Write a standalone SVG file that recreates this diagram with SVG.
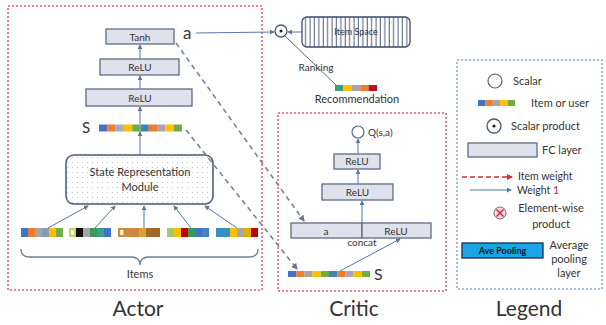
<svg xmlns="http://www.w3.org/2000/svg" width="606" height="325" viewBox="0 0 606 325">
<defs>
<style>
.t{font-family:Lato,"Open Sans","DejaVu Sans",sans-serif;fill:#333}
.fc{fill:#dfe1ec;stroke:#5d6c86;stroke-width:1.3}
.red{fill:none;stroke:#e05a6a;stroke-width:1.5;stroke-dasharray:2 2}
.blue{fill:none;stroke:#86a8d4;stroke-width:1.5;stroke-dasharray:2 2}
.ln{stroke:#5577a0;stroke-width:1;fill:none}
.dl{stroke:#7a8494;stroke-width:1.6;stroke-dasharray:5 4;fill:none}
</style>
<marker id="arr" viewBox="0 0 6 6" refX="5" refY="3" markerWidth="5" markerHeight="5" orient="auto"><path d="M0,0 L6,3 L0,6 z" fill="#5577a0"/></marker>
<marker id="darr" viewBox="0 0 6 6" refX="5" refY="3" markerWidth="4" markerHeight="4" orient="auto"><path d="M0,0 L6,3 L0,6 z" fill="#6a7484"/></marker>
<marker id="rarr" viewBox="0 0 6 6" refX="5" refY="3" markerWidth="4" markerHeight="4" orient="auto"><path d="M0,0 L6,3 L0,6 z" fill="#d03040"/></marker>
<pattern id="dots" width="5" height="5" patternUnits="userSpaceOnUse"><circle cx="2.5" cy="2.5" r="0.6" fill="#b4bccb"/></pattern>
<pattern id="stripes" width="4.4" height="10" patternUnits="userSpaceOnUse"><rect width="4.4" height="10" fill="#fff"/><line x1="2" y1="0" x2="2" y2="10" stroke="#3a4a6a" stroke-width="0.9"/></pattern>
</defs>
<rect width="606" height="325" fill="#fff"/>

<!-- panels -->
<g id="actor-panel">
<rect class="red" x="8" y="6" width="254" height="284"/>
<text class="t" x="138" y="316" font-size="21" text-anchor="middle">Actor</text>
</g>
<g id="critic-panel">
<rect class="red" x="278" y="113" width="168" height="178"/>
<text class="t" x="354" y="316" font-size="21" text-anchor="middle">Critic</text>
</g>
<g id="legend-panel">
<rect class="blue" x="457" y="60" width="145" height="229"/>
<text class="t" x="529" y="316" font-size="21" text-anchor="middle">Legend</text>
</g>

<!-- actor nodes -->
<g id="tanh"><rect class="fc" x="106" y="29" width="68" height="15"/><text class="t" x="140" y="40.5" font-size="10" text-anchor="middle">Tanh</text></g>
<g id="a-label"><text class="t" x="183" y="39" font-size="17">a</text></g>
<g id="relu-a1"><rect class="fc" x="100" y="59" width="79" height="16"/><text class="t" x="140" y="71" font-size="10" text-anchor="middle">ReLU</text></g>
<g id="relu-a2"><rect class="fc" x="86" y="89" width="106" height="17"/><text class="t" x="140" y="101.5" font-size="10" text-anchor="middle">ReLU</text></g>
<g id="state-s">
<text class="t" x="82" y="133" font-size="15">S</text>
<rect x="99" y="124.5" width="8.3" height="7" fill="#4472c4"/><rect x="107.3" y="124.5" width="8.3" height="7" fill="#ed7d31"/><rect x="115.6" y="124.5" width="8.3" height="7" fill="#9fb0c4"/><rect x="123.9" y="124.5" width="8.3" height="7" fill="#ffc000"/><rect x="132.2" y="124.5" width="8.3" height="7" fill="#70ad47"/><rect x="140.5" y="124.5" width="8.3" height="7" fill="#3f86a8"/><rect x="148.8" y="124.5" width="8.3" height="7" fill="#ed7d31"/><rect x="157.1" y="124.5" width="8.3" height="7" fill="#b0a0b8"/><rect x="165.4" y="124.5" width="8.3" height="7" fill="#ffc000"/><rect x="173.7" y="124.5" width="8.3" height="7" fill="#70ad47"/>
</g>
<g id="srm">
<rect x="66" y="155" width="147" height="49" rx="8" fill="url(#dots)" stroke="#4a5a70" stroke-width="1.5"/>
<text class="t" x="140" y="176" font-size="11" text-anchor="middle">State Representation</text>
<text class="t" x="140" y="191" font-size="11" text-anchor="middle">Module</text>
</g>
<g id="items">
<g>
<rect x="21" y="228" width="7" height="9" fill="#4472c4"/><rect x="28" y="228" width="7" height="9" fill="#ed7d31"/><rect x="35" y="228" width="7" height="9" fill="#a5a5a5"/><rect x="42" y="228" width="7" height="9" fill="#8d9aae"/><rect x="49" y="228" width="7" height="9" fill="#ffc000"/><rect x="56" y="228" width="7" height="9" fill="#70ad47"/>
</g>
<g>
<rect x="69" y="228" width="7" height="9" fill="#c8d46a"/><rect x="71" y="230.5" width="3" height="4" fill="#fff"/><rect x="76" y="228" width="7" height="9" fill="#111"/><rect x="83" y="228" width="7" height="9" fill="#a5a5a5"/><rect x="90" y="228" width="7" height="9" fill="#3a9a5a"/><rect x="97" y="228" width="7" height="9" fill="#3aa08a"/><rect x="104" y="228" width="7" height="9" fill="#4472c4"/>
</g>
<g>
<rect x="118" y="228" width="7" height="9" fill="#d08a3a"/><rect x="120" y="230" width="3.5" height="5" fill="#f6eedc"/><rect x="125" y="228" width="7" height="9" fill="#d08a3a"/><rect x="132" y="228" width="7" height="9" fill="#c98a40"/><rect x="139" y="228" width="7" height="9" fill="#e0a030"/><rect x="146" y="228" width="7" height="9" fill="#a06c2c"/><rect x="153" y="228" width="7" height="9" fill="#9c6a2a"/>
</g>
<g>
<rect x="167" y="228" width="7" height="9" fill="#a0c880"/><rect x="174" y="228" width="7" height="9" fill="#ffc000"/><rect x="181" y="228" width="7" height="9" fill="#c00000"/><rect x="188" y="228" width="7" height="9" fill="#3a9a5a"/><rect x="195" y="228" width="7" height="9" fill="#4472c4"/><rect x="202" y="228" width="7" height="9" fill="#4f7ec8"/>
</g>
<g>
<rect x="216" y="228" width="7" height="9" fill="#3a8fc0"/><rect x="223" y="228" width="7" height="9" fill="#3a8fc0"/><rect x="230" y="228" width="7" height="9" fill="#ffc000"/><rect x="237" y="228" width="7" height="9" fill="#a5a5a5"/><rect x="244" y="228" width="7" height="9" fill="#e0b000"/><rect x="251" y="228" width="7" height="9" fill="#c00000"/>
</g>
<path d="M21,249 Q21,257 30,257 L131,257 Q140,257 140,265 Q140,257 149,257 L249,257 Q258,257 258,249" fill="none" stroke="#6a7f9a" stroke-width="1.3"/>
<text class="t" x="140" y="278" font-size="11" text-anchor="middle">Items</text>
</g>

<!-- top ranking -->
<g id="scalar-product"><circle cx="281" cy="31" r="6" fill="#fff" stroke="#4a5a70" stroke-width="1.3"/><circle cx="281" cy="31" r="1.5" fill="#222"/></g>
<g id="item-space"><rect x="302" y="17" width="108" height="30" rx="5" fill="url(#stripes)" stroke="#3a4a6a" stroke-width="1.3"/><text class="t" x="356" y="35" font-size="9" text-anchor="middle" fill="#222">Item Space</text></g>
<g id="recommendation">
<rect x="335" y="85" width="8.4" height="6" fill="#3aa080"/><rect x="343.4" y="85" width="8.4" height="6" fill="#ffc000"/><rect x="351.8" y="85" width="8.4" height="6" fill="#a5a5a5"/><rect x="360.2" y="85" width="8.4" height="6" fill="#ed7d31"/><rect x="368.6" y="85" width="8.4" height="6" fill="#b01828"/>
<text class="t" x="357" y="103" font-size="11" text-anchor="middle">Recommendation</text>
</g>
<g id="ranking-label"><text class="t" x="316" y="71" font-size="10" text-anchor="middle">Ranking</text></g>

<!-- critic nodes -->
<g id="q"><circle cx="358" cy="132" r="6" fill="#fff" stroke="#5d6c86" stroke-width="1.2"/><text class="t" x="368" y="136" font-size="10">Q(s,a)</text></g>
<g id="relu-c1"><rect class="fc" x="334" y="154" width="46" height="15"/><text class="t" x="357" y="165" font-size="10" text-anchor="middle">ReLU</text></g>
<g id="relu-c2"><rect class="fc" x="322" y="184" width="71" height="16"/><text class="t" x="357.5" y="196" font-size="10" text-anchor="middle">ReLU</text></g>
<g id="concat"><rect class="fc" x="291" y="223" width="71" height="15"/><rect class="fc" x="362" y="223" width="69" height="15"/><text class="t" x="326" y="234.5" font-size="10" text-anchor="middle">a</text><text class="t" x="396" y="234.5" font-size="10" text-anchor="middle">ReLU</text><text class="t" x="362" y="246" font-size="10" text-anchor="middle">concat</text></g>
<g id="critic-s">
<rect x="288" y="271" width="8.2" height="6" fill="#4472c4"/><rect x="296.2" y="271" width="8.2" height="6" fill="#ed7d31"/><rect x="304.4" y="271" width="8.2" height="6" fill="#a5a5a5"/><rect x="312.6" y="271" width="8.2" height="6" fill="#ffc000"/><rect x="320.8" y="271" width="8.2" height="6" fill="#70ad47"/><rect x="329" y="271" width="8.2" height="6" fill="#3f86a8"/><rect x="337.2" y="271" width="8.2" height="6" fill="#ed7d31"/><rect x="345.4" y="271" width="8.2" height="6" fill="#b0a0b8"/><rect x="353.6" y="271" width="8.2" height="6" fill="#ffc000"/><rect x="361.8" y="271" width="8.2" height="6" fill="#70ad47"/>
<text class="t" x="374" y="280" font-size="16">S</text>
</g>

<!-- legend -->
<g id="legend-items">
<circle cx="495" cy="81" r="7" fill="#fff" stroke="#4a6690" stroke-width="1.2"/>
<text class="t" x="513" y="85" font-size="11">Scalar</text>
<rect x="478" y="100" width="7.4" height="6" fill="#4472c4"/><rect x="485.4" y="100" width="7.4" height="6" fill="#ed7d31"/><rect x="492.8" y="100" width="7.4" height="6" fill="#a5a5a5"/><rect x="500.2" y="100" width="7.4" height="6" fill="#ffc000"/><rect x="507.6" y="100" width="7.4" height="6" fill="#70ad47"/>
<text class="t" x="531" y="107" font-size="11">Item or user</text>
<circle cx="494" cy="126" r="7" fill="#fff" stroke="#4a5a70" stroke-width="1.3"/><circle cx="494" cy="126" r="1.6" fill="#222"/>
<text class="t" x="511" y="130" font-size="11">Scalar product</text>
<rect class="fc" x="468" y="143" width="69" height="14"/>
<text class="t" x="542" y="154" font-size="11">FC layer</text>
<line x1="462" y1="177" x2="512" y2="177" stroke="#d03040" stroke-width="1.5" stroke-dasharray="5 3" marker-end="url(#rarr)"/>
<text class="t" x="518" y="180" font-size="10.5">Item weight</text>
<line x1="470" y1="190" x2="511" y2="190" class="ln" marker-end="url(#arr)"/>
<text class="t" x="517" y="194" font-size="10.5">Weight <tspan fill="#d02030">1</tspan></text>
<circle cx="500" cy="213" r="6" fill="#f6d8dc" stroke="#7a6a80" stroke-width="1"/>
<path d="M496.5,209.5 L503.5,216.5 M503.5,209.5 L496.5,216.5" stroke="#d02030" stroke-width="1.4"/>
<text class="t" x="551" y="212" font-size="11" text-anchor="middle">Element-wise</text>
<text class="t" x="551" y="228" font-size="11" text-anchor="middle">product</text>
<rect x="462" y="243" width="81" height="15" fill="#1aa6e6" stroke="#1a2a4a" stroke-width="1.3"/>
<text x="502.5" y="254" font-size="9" font-weight="bold" text-anchor="middle" font-family="Lato,'DejaVu Sans',sans-serif" fill="#111">Ave Pooling</text>
<text class="t" x="569" y="249" font-size="11" text-anchor="middle">Average</text>
<text class="t" x="569" y="263" font-size="11" text-anchor="middle">pooling</text>
<text class="t" x="569" y="277" font-size="11" text-anchor="middle">layer</text>
</g>

<!-- connectors -->
<g id="connectors">
<line class="ln" x1="140" y1="155" x2="140" y2="132" marker-end="url(#arr)"/>
<line class="ln" x1="140" y1="124" x2="140" y2="107" marker-end="url(#arr)"/>
<line class="ln" x1="140" y1="89" x2="140" y2="76" marker-end="url(#arr)"/>
<line class="ln" x1="140" y1="59" x2="140" y2="45" marker-end="url(#arr)"/>
<line class="ln" x1="48" y1="228" x2="88" y2="206" marker-end="url(#arr)"/>
<line class="ln" x1="95" y1="228" x2="115" y2="206" marker-end="url(#arr)"/>
<line class="ln" x1="144" y1="228" x2="144" y2="206" marker-end="url(#arr)"/>
<line class="ln" x1="191" y1="228" x2="174" y2="206" marker-end="url(#arr)"/>
<line class="ln" x1="237" y1="228" x2="205" y2="206" marker-end="url(#arr)"/>
<line class="ln" x1="196" y1="33" x2="274" y2="32" marker-end="url(#arr)"/>
<line class="ln" x1="302" y1="32" x2="288" y2="32" marker-end="url(#arr)"/>
<line x1="285" y1="36" x2="337" y2="86" stroke="#5a6a7a" stroke-width="1"/>
<line class="ln" x1="358" y1="154" x2="358" y2="139" marker-end="url(#arr)"/>
<line class="ln" x1="358" y1="184" x2="358" y2="170" marker-end="url(#arr)"/>
<line class="ln" x1="362" y1="223" x2="362" y2="201" marker-end="url(#arr)"/>
<line class="ln" x1="340" y1="271" x2="400" y2="239" marker-end="url(#arr)"/>
<line class="dl" x1="176" y1="43" x2="304" y2="221" marker-end="url(#darr)"/>
<line class="dl" x1="186" y1="130" x2="297" y2="269" marker-end="url(#darr)"/>
</g>
</svg>
